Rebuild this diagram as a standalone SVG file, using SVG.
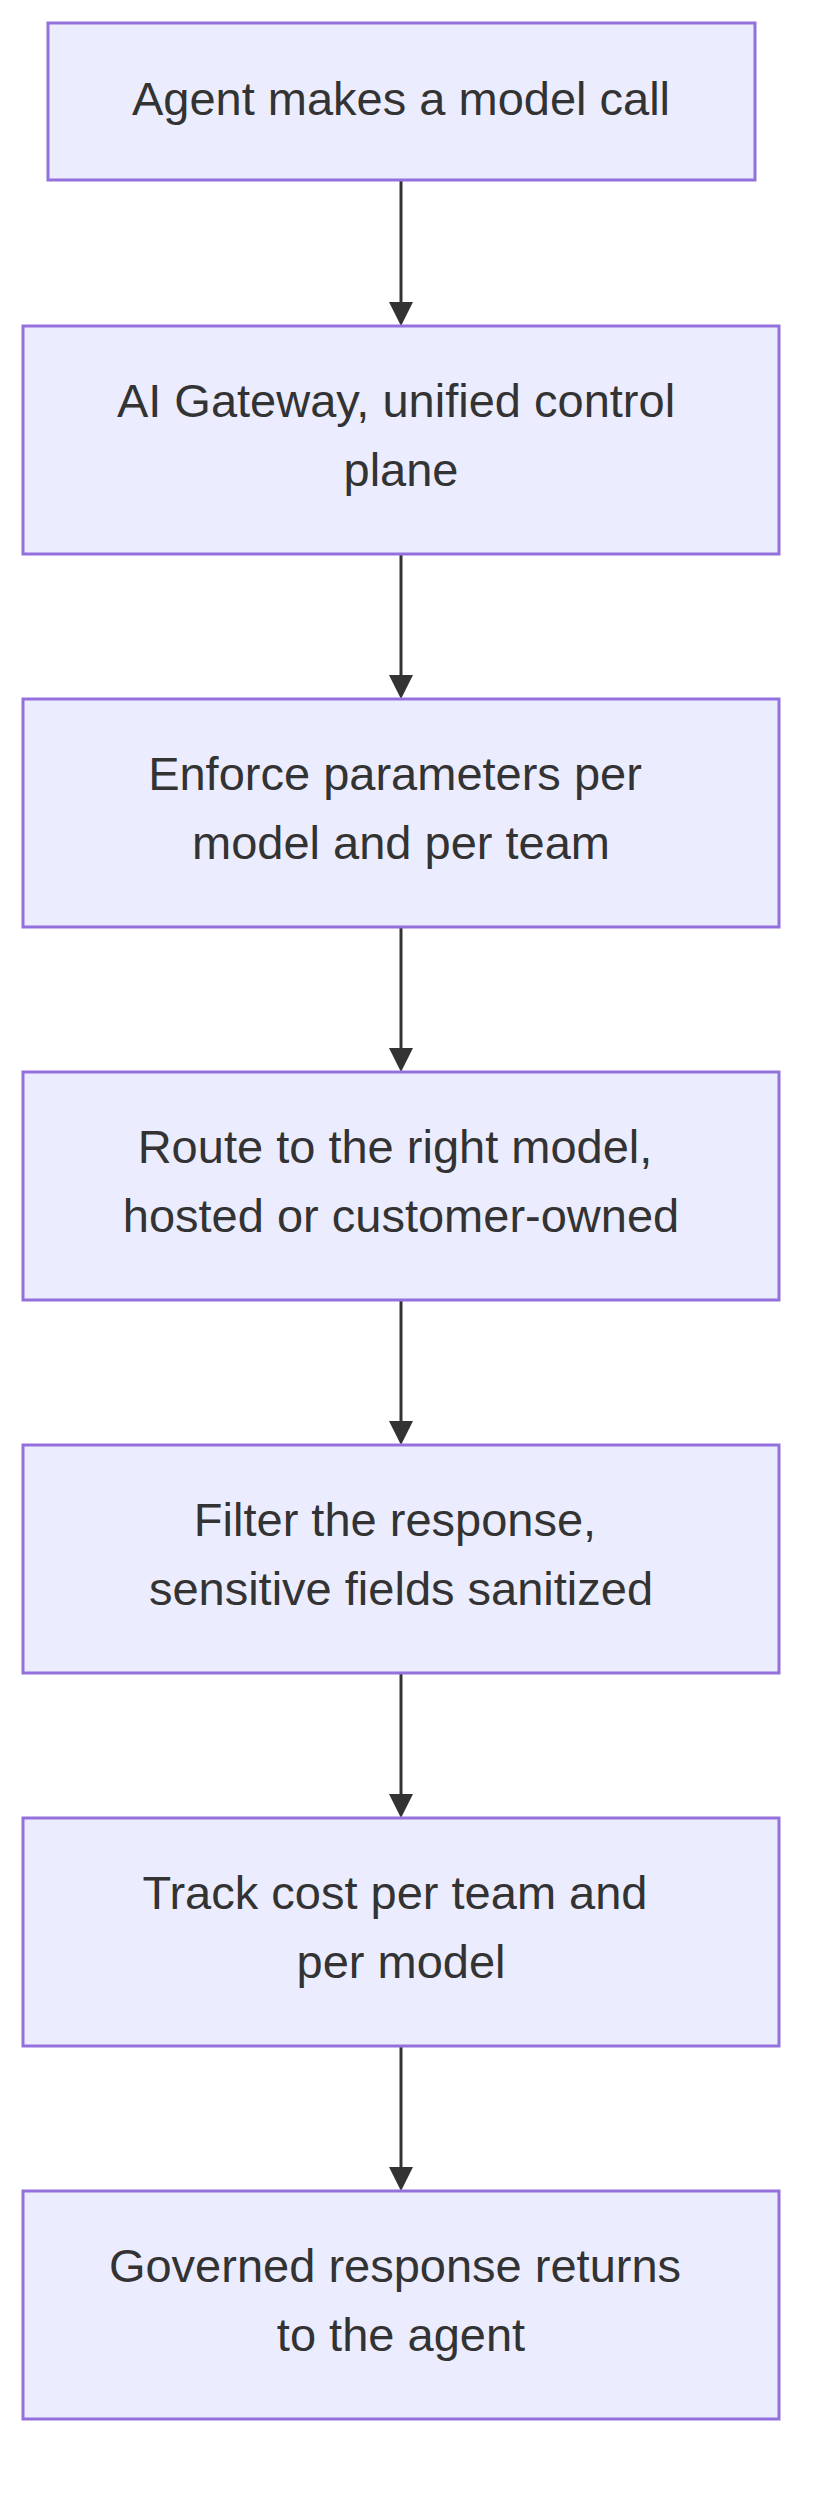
<svg xmlns="http://www.w3.org/2000/svg" width="828" height="2514" viewBox="0 0 828 2514">
<style>
.n{fill:#ECECFF;stroke:#9370DB;stroke-width:3}
.t{font-family:"Liberation Sans",Arial,sans-serif;font-size:47px;fill:#333;text-anchor:middle;dominant-baseline:central}
.e{stroke:#333;stroke-width:3;fill:none}
.h{fill:#333}
</style>
<rect width="828" height="2514" fill="#fff"/>
<g id="edges">
<line class="e" x1="401" y1="180" x2="401" y2="306"/><path class="h" d="M389,302 L413,302 L401,326 z"/>
<line class="e" x1="401" y1="554" x2="401" y2="680"/><path class="h" d="M389,675 L413,675 L401,699 z"/>
<line class="e" x1="401" y1="927" x2="401" y2="1053"/><path class="h" d="M389,1048 L413,1048 L401,1072 z"/>
<line class="e" x1="401" y1="1300" x2="401" y2="1426"/><path class="h" d="M389,1421 L413,1421 L401,1445 z"/>
<line class="e" x1="401" y1="1673" x2="401" y2="1799"/><path class="h" d="M389,1794 L413,1794 L401,1818 z"/>
<line class="e" x1="401" y1="2046" x2="401" y2="2172"/><path class="h" d="M389,2167 L413,2167 L401,2191 z"/>
</g>
<g id="n1"><rect class="n" x="48" y="23" width="707" height="157"/><text class="t" x="401" y="98">Agent makes a model call</text></g>
<g id="n2"><rect class="n" x="23" y="326" width="756" height="228"/><text class="t" x="396" y="400">AI Gateway, unified control</text><text class="t" x="401" y="469">plane</text></g>
<g id="n3"><rect class="n" x="23" y="699" width="756" height="228"/><text class="t" x="395" y="773">Enforce parameters per</text><text class="t" x="401" y="842">model and per team</text></g>
<g id="n4"><rect class="n" x="23" y="1072" width="756" height="228"/><text class="t" x="395" y="1146">Route to the right model,</text><text class="t" x="401" y="1215">hosted or customer-owned</text></g>
<g id="n5"><rect class="n" x="23" y="1445" width="756" height="228"/><text class="t" x="395" y="1519">Filter the response,</text><text class="t" x="401" y="1588">sensitive fields sanitized</text></g>
<g id="n6"><rect class="n" x="23" y="1818" width="756" height="228"/><text class="t" x="395" y="1892">Track cost per team and</text><text class="t" x="401" y="1961">per model</text></g>
<g id="n7"><rect class="n" x="23" y="2191" width="756" height="228"/><text class="t" x="395" y="2265">Governed response returns</text><text class="t" x="401" y="2334">to the agent</text></g>
</svg>
